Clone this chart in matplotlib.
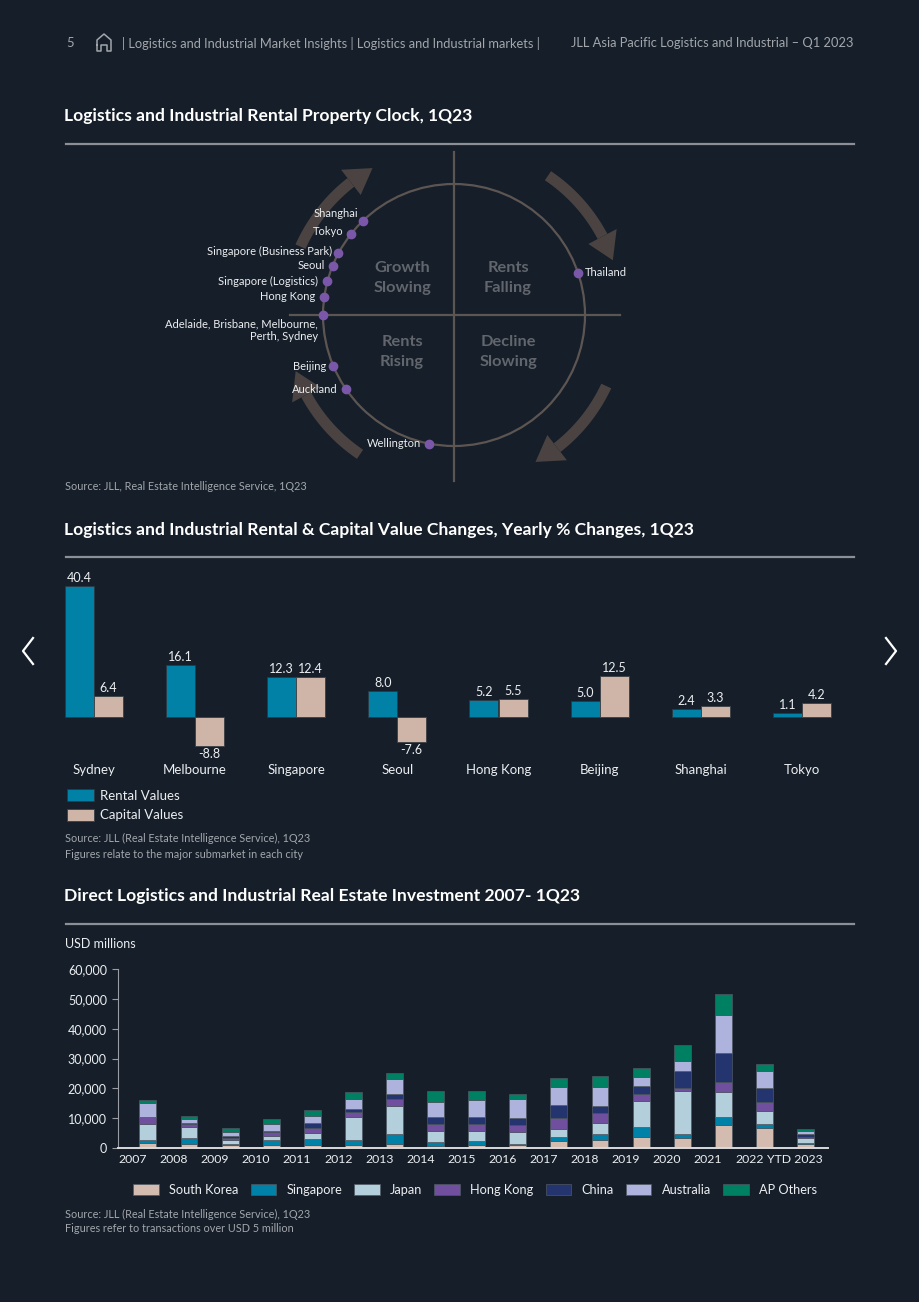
import numpy as np
import matplotlib
matplotlib.use("Agg")
import matplotlib.pyplot as plt
from matplotlib.patches import Polygon, Circle, Patch
from matplotlib.lines import Line2D
from matplotlib.ticker import FuncFormatter
from matplotlib.transforms import ScaledTranslation

plt.rcParams['font.family'] = ['Lato', 'DejaVu Sans']

# ---- data ----
clock_cities = ['Shanghai', 'Tokyo', 'Singapore (Business Park)', 'Seoul',
                'Singapore (Logistics)', 'Hong Kong',
                'Adelaide, Brisbane, Melbourne,\nPerth, Sydney',
                'Beijing', 'Auckland', 'Wellington', 'Thailand']
clock_angle = [134, 142, 152, 158, 165, 172, 180, 203, 214.5, 259, 18.5]   # degrees on the clock face

cities = ['Sydney', 'Melbourne', 'Singapore', 'Seoul', 'Hong Kong', 'Beijing', 'Shanghai', 'Tokyo']
rental = [40.4, 16.1, 12.3, 8.0, 5.2, 5.0, 2.4, 1.1]
capital = [6.4, -8.8, 12.4, -7.6, 5.5, 12.5, 3.3, 4.2]

years = ['2007', '2008', '2009', '2010', '2011', '2012', '2013', '2014', '2015',
         '2016', '2017', '2018', '2019', '2020', '2021', '2022', 'YTD 2023']
south_korea = [1560, 1340, 890, 1000, 1120, 890, 1450, 560, 1120, 890, 2460, 2570, 3570, 3350, 7600, 6590, 1230]
singapore = [1230, 2010, 450, 1680, 1900, 1790, 3350, 1450, 1120, 560, 1230, 2010, 3350, 1450, 2680, 1340, 340]
japan = [5360, 3570, 1450, 1450, 1900, 7600, 9160, 3800, 3570, 4020, 2790, 3910, 8820, 14190, 8380, 4580, 1790]
hong_kong = [2120, 1000, 670, 1120, 1900, 1900, 2570, 2350, 2120, 2230, 3690, 3130, 2230, 1000, 3570, 3020, 220]
china = [220, 450, 670, 450, 1450, 780, 1680, 2230, 2350, 2230, 4360, 2350, 2790, 5810, 9720, 4690, 1000]
australia = [4470, 1230, 1340, 2350, 2460, 3460, 4800, 5030, 5810, 6590, 5810, 6370, 3020, 3350, 12510, 5470, 1000]
ap_others = [1000, 1230, 1340, 1790, 2010, 2230, 2230, 3800, 3130, 1680, 3240, 3800, 3020, 5250, 7260, 2350, 670]

series_names = ['South Korea', 'Singapore', 'Japan', 'Hong Kong', 'China', 'Australia', 'AP Others']
series_vals = [south_korea, singapore, japan, hong_kong, china, australia, ap_others]
series_cols = ['#d3bcaf', '#0081a7', '#b2cfdb', '#714f9f', '#24346f', '#adb3dd', '#008062']

# ---- figure / helpers ----
W, H = 920, 1302
BG = '#151e29'
TXT = '#eceef0'
GREY = '#a3a7ac'

fig = plt.figure(figsize=(W / 100, H / 100), dpi=100, facecolor=BG)


def fx(px):
    return px / W


def fy(py):
    return 1 - py / H


def rect(x0, y0, x1, y1):
    return [x0 / W, 1 - y1 / H, (x1 - x0) / W, (y1 - y0) / H]


def hline(x0, x1, y, color='#8c9096', lw=1.6):
    fig.add_artist(Line2D([fx(x0), fx(x1)], [fy(y), fy(y)], color=color, lw=lw))


# header
fig.text(fx(66), fy(43), '5', color=GREY, fontsize=9.3, va='center')
house = [(97, 45), (97, 40), (104, 34), (111, 40), (111, 51), (107, 51), (107, 45), (101, 45), (101, 51), (97, 51), (97, 45)]
fig.add_artist(Line2D([fx(p[0]) for p in house], [fy(p[1]) for p in house], color=GREY, lw=1.1))
fig.text(fx(122), fy(43), '| Logistics and Industrial Market Insights | Logistics and Industrial markets |',
         color=GREY, fontsize=9.3, va='center')
fig.text(fx(854), fy(43), 'JLL Asia Pacific Logistics and Industrial \u2013 Q1 2023',
         color=GREY, fontsize=9.3, va='center', ha='right')

# nav chevrons
for pts in ([(33, 638), (23, 651), (33, 664)], [(886, 638), (896, 651), (886, 664)]):
    fig.add_artist(Line2D([fx(p[0]) for p in pts], [fy(p[1]) for p in pts], color='white', lw=1.6))

# section titles
titles = [(116, 'Logistics and Industrial Rental Property Clock, 1Q23', 144),
          (530, 'Logistics and Industrial Rental & Capital Value Changes, Yearly % Changes, 1Q23', 557),
          (896, 'Direct Logistics and Industrial Real Estate Investment 2007- 1Q23', 924)]
for ty, t, ly in titles:
    fig.text(fx(64), fy(ty), t, color='white', fontsize=12.6, fontweight='bold', va='center')
    hline(66, 854, ly)

# ---- property clock ----
cx, cy = 454, 315
ax1 = fig.add_axes(rect(cx - 300, cy - 170, cx + 300, cy + 170))
ax1.set_xlim(-300, 300)
ax1.set_ylim(-170, 170)
ax1.axis('off')
R = 131
ax1.add_patch(Circle((0, 0), R, fill=False, ec='#5d5552', lw=1.6))
ax1.plot([0, 0], [-166, 163], color='#5d5552', lw=1.6)
ax1.plot([-164, 166], [0, 0], color='#5d5552', lw=1.6)

qcol = '#62666c'
for (qx, qy), q in zip([(-52, 37), (54, 37), (-52, -37), (54, -37)],
                       ['Growth\nSlowing', 'Rents\nFalling', 'Rents\nRising', 'Decline\nSlowing']):
    ax1.text(qx, qy, q, color=qcol, fontsize=11.8, fontweight='bold', ha='center', va='center', linespacing=1.5)


def arc_arrow(ax, a0, a1, r=168, w=11, head_len=26, head_w=32, color='#4a4341'):
    sgn = np.sign(a1 - a0)
    ab = a1 - sgn * np.degrees(head_len / r)
    t = np.radians(np.linspace(a0, ab, 50))
    outer = np.c_[(r + w / 2) * np.cos(t), (r + w / 2) * np.sin(t)]
    inner = np.c_[(r - w / 2) * np.cos(t), (r - w / 2) * np.sin(t)][::-1]
    ax.add_patch(Polygon(np.vstack([outer, inner]), closed=True, fc=color, ec='none'))
    tb, tt = np.radians(ab), np.radians(a1)
    head = [((r + head_w / 2) * np.cos(tb), (r + head_w / 2) * np.sin(tb)),
            (r * np.cos(tt), r * np.sin(tt)),
            ((r - head_w / 2) * np.cos(tb), (r - head_w / 2) * np.sin(tb))]
    ax.add_patch(Polygon(head, closed=True, fc=color, ec='none'))


for a0, a1 in [(156, 119), (56, 19), (-25, -61), (236, 199.5)]:
    arc_arrow(ax1, a0, a1)

offsets = {'Shanghai': (-5, 7), 'Tokyo': (-7, 3), 'Singapore (Business Park)': (-6, 2),
           'Seoul': (-8, 0), 'Singapore (Logistics)': (-9, 0), 'Hong Kong': (-9, 0),
           'Beijing': (-7, 0), 'Auckland': (-8, 0), 'Wellington': (-8, 0), 'Thailand': (7, 1)}
for name, ang in zip(clock_cities, clock_angle):
    px_, py_ = R * np.cos(np.radians(ang)), R * np.sin(np.radians(ang))
    ax1.plot(px_, py_, 'o', ms=6, color='#7b57aa', zorder=5)
    if name.startswith('Adelaide'):
        ax1.annotate(name, (px_, py_), xytext=(-5, -3), textcoords='offset pixels',
                     ha='right', va='top', color=TXT, fontsize=8, multialignment='right')
    else:
        dx, dy = offsets[name]
        ax1.annotate(name, (px_, py_), xytext=(dx, dy), textcoords='offset pixels',
                     ha='left' if dx > 0 else 'right', va='center', color=TXT, fontsize=8)

fig.text(fx(65), fy(487), 'Source: JLL, Real Estate Intelligence Service, 1Q23', color=GREY, fontsize=7.8, va='center')

# ---- rental & capital value changes ----
spacing, x_first = 101.2, 93.7
ax2 = fig.add_axes(rect(44, 560, 854, 758))
ax2.set_xlim((44 - x_first) / spacing, (854 - x_first) / spacing)
ax2.set_ylim(-(758 - 717) / 3.25, (717 - 560) / 3.25)
ax2.set_facecolor('none')
for s in ax2.spines.values():
    s.set_visible(False)
ax2.tick_params(left=False, bottom=False, labelleft=False, labelcolor=TXT, labelsize=9.5, pad=0.5)
x = np.arange(len(cities))
bw = 29 / spacing
b1 = ax2.bar(x - bw / 2, rental, bw, color='#0081a5', ec='#2c3a44', lw=0.6)
b2 = ax2.bar(x + bw / 2, capital, bw, color='#ceb5a7', ec='#3a3f45', lw=0.6)
ax2.set_xticks(x, cities)
for bars, vals in ((b1, rental), (b2, capital)):
    for b, v in zip(bars, vals):
        xc = b.get_x() + b.get_width() / 2
        if v >= 0:
            ax2.annotate(f'{v:.1f}', (xc, v), xytext=(0, 2), textcoords='offset pixels',
                         ha='center', va='bottom', color=TXT, fontsize=9)
        else:
            ax2.annotate(f'{v:.1f}', (xc, v), xytext=(0, -2), textcoords='offset pixels',
                         ha='center', va='top', color=TXT, fontsize=9)

fig.legend(handles=[Patch(fc='#0081a5', ec='#2c3a44', lw=0.6), Patch(fc='#ceb5a7', ec='#3a3f45', lw=0.6)],
           labels=['Rental Values', 'Capital Values'], loc='upper left',
           bbox_to_anchor=(fx(58), fy(780)), frameon=False, fontsize=9.5, labelcolor=TXT,
           handlelength=2.0, handleheight=1.0, handletextpad=0.5, labelspacing=0.55, borderpad=0.2)
fig.text(fx(65), fy(838), 'Source: JLL (Real Estate Intelligence Service), 1Q23', color=GREY, fontsize=7.8, va='center')
fig.text(fx(65), fy(854), 'Figures relate to the major submarket in each city', color=GREY, fontsize=7.8, va='center')

# ---- direct investment ----
step, x0 = 41.1, 132.7
ax3 = fig.add_axes(rect(118, 969, 828, 1148))
ax3.set_facecolor('none')
ax3.set_xlim((118 - x0) / step, (828 - x0) / step)
ax3.set_ylim(0, 60000)
xi = np.arange(len(years))
bottom = np.zeros(len(years))
for name, vals, col in zip(series_names, series_vals, series_cols):
    ax3.bar(xi + 0.37, vals, 0.41, bottom=bottom, color=col, ec='#4f5862', lw=0.5, label=name)
    bottom += np.array(vals)
ax3.set_yticks(np.arange(0, 60001, 10000))
ax3.yaxis.set_major_formatter(FuncFormatter(lambda v, p: f'{int(v):,}'))
ax3.set_xticks(xi, years)
for s in ['top', 'right']:
    ax3.spines[s].set_visible(False)
ax3.spines['left'].set_color('#9a9ea4')
ax3.spines['bottom'].set_color('#d8dadc')
ax3.spines['bottom'].set_linewidth(1.4)
ax3.tick_params(axis='y', colors='#9a9ea4', labelcolor=TXT, labelsize=9, length=4, pad=4)
ax3.tick_params(axis='x', length=0, labelcolor=TXT, labelsize=8.8, pad=4)
# the last label sits a little right of its slot in the source
last = ax3.get_xticklabels()[-1]
last.set_transform(last.get_transform() + ScaledTranslation(5 / 100, 0, fig.dpi_scale_trans))
fig.text(fx(65), fy(944), 'USD millions', color=TXT, fontsize=9, va='center')

h3, l3 = ax3.get_legend_handles_labels()
fig.legend(h3, l3, loc='center', bbox_to_anchor=(fx(475), fy(1190)), ncol=7, frameon=False,
           fontsize=9.2, labelcolor=TXT, handlelength=2.0, handleheight=1.0, handletextpad=0.8,
           columnspacing=0.95)
fig.text(fx(65), fy(1214), 'Source: JLL (Real Estate Intelligence Service), 1Q23', color=GREY, fontsize=7.8, va='center')
fig.text(fx(65), fy(1229), 'Figures refer to transactions over USD 5 million', color=GREY, fontsize=7.8, va='center')

fig.savefig('out.png', dpi=100, facecolor=BG)
